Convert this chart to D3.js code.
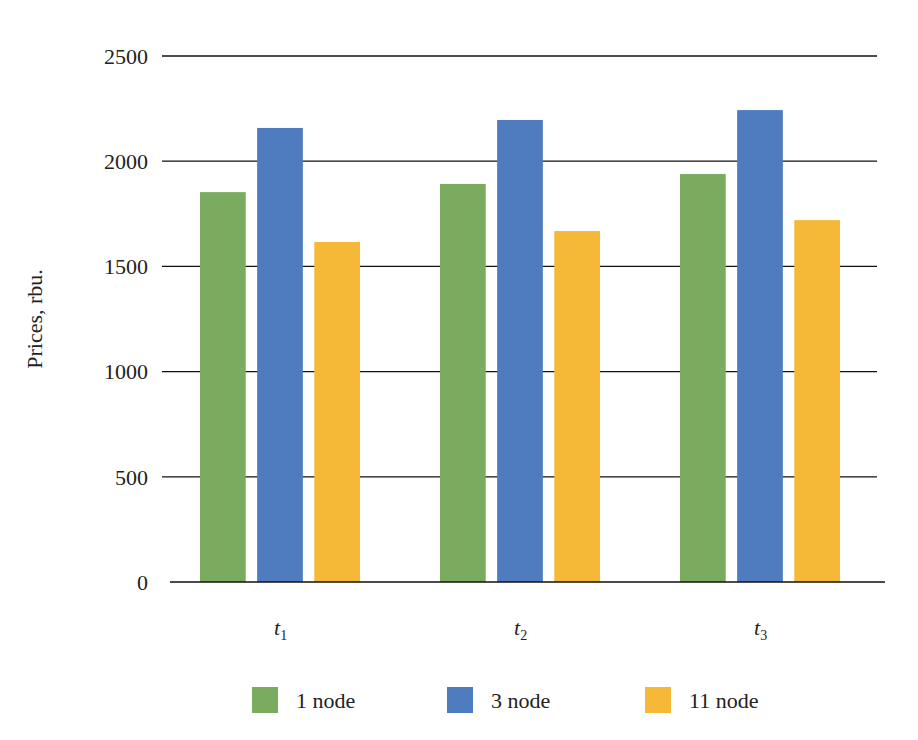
<!DOCTYPE html>
<html>
<head>
<meta charset="utf-8">
<script src="https://cdn.jsdelivr.net/npm/d3@7"></script>
<style>
  body { margin: 0; background: #fff; }
  text { font-family: "Liberation Serif", "DejaVu Serif", serif; fill: #222; }
</style>
</head>
<body>
<script>
var periods = ["1", "2", "3"];
var seriesNames = ["1 node", "3 node", "11 node"];
var colors = ["#7aab5e", "#4f7bbf", "#f5b937"];
var node1 = [1853, 1892, 1939];
var node3 = [2158, 2196, 2243];
var node11 = [1616, 1668, 1720];
var yTicks = [0, 500, 1000, 1500, 2000, 2500];

var series = [node1, node3, node11];

var svg = d3.select("body").append("svg")
  .attr("width", 918)
  .attr("height", 740);

var x = d3.scaleBand().domain(periods).range([160, 880]);
var y = d3.scaleLinear().domain([0, 2500]).range([582, 56]);
var inner = d3.scaleBand().domain(d3.range(3)).range([-80, 80]).paddingInner(0.2);

// grid
svg.selectAll("line.grid")
  .data(yTicks.slice(1))
  .enter().append("line")
  .attr("x1", 162).attr("x2", 877)
  .attr("y1", d => y(d)).attr("y2", d => y(d))
  .attr("stroke", "#111").attr("stroke-width", 1.3);

svg.selectAll("text.ytick")
  .data(yTicks)
  .enter().append("text")
  .attr("x", 148).attr("y", d => y(d))
  .attr("dy", "0.35em")
  .attr("text-anchor", "end")
  .attr("font-size", 22)
  .text(d => d);

// bars
series.forEach(function (vals, s) {
  svg.selectAll("rect.s" + s)
    .data(vals)
    .enter().append("rect")
    .attr("x", (d, i) => x(periods[i]) + x.bandwidth() / 2 + inner(s))
    .attr("width", inner.bandwidth())
    .attr("y", d => y(d))
    .attr("height", d => y(0) - y(d))
    .attr("fill", colors[s]);
});

// baseline
svg.append("line")
  .attr("x1", 170).attr("x2", 885)
  .attr("y1", y(0)).attr("y2", y(0))
  .attr("stroke", "#111").attr("stroke-width", 1.5);

// x labels
var xl = svg.selectAll("text.xl")
  .data(periods)
  .enter().append("text")
  .attr("x", d => x(d) + x.bandwidth() / 2 - 6)
  .attr("y", 635)
  .attr("font-size", 22)
  .attr("font-style", "italic");
xl.append("tspan").text("t");
xl.append("tspan").attr("font-size", 14).attr("dy", 5).attr("font-style", "normal").text(d => d);

// y title
svg.append("text")
  .attr("transform", "translate(42,319) rotate(-90)")
  .attr("text-anchor", "middle")
  .attr("font-size", 22)
  .text("Prices, rbu.");

// legend
var legX = [252, 447, 645];
seriesNames.forEach(function (n, i) {
  svg.append("rect")
    .attr("x", legX[i]).attr("y", 687)
    .attr("width", 26).attr("height", 26)
    .attr("fill", colors[i]);
  svg.append("text")
    .attr("x", legX[i] + 44).attr("y", 700)
    .attr("dy", "0.35em")
    .attr("font-size", 22)
    .text(n);
});
</script>
</body>
</html>
